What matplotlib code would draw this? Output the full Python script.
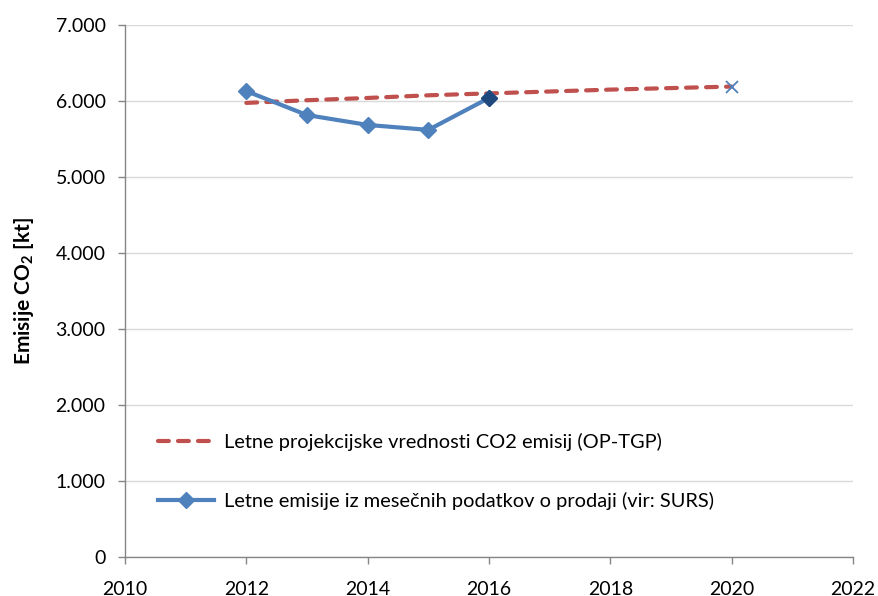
import matplotlib
matplotlib.use("Agg")
import matplotlib.pyplot as plt
from matplotlib.ticker import FuncFormatter, MultipleLocator

plt.rcParams['font.family'] = ['Lato', 'DejaVu Sans']
plt.rcParams['mathtext.fontset'] = 'custom'
plt.rcParams['mathtext.bf'] = 'Lato:bold'
plt.rcParams['mathtext.rm'] = 'Lato'

proj_years = [2012, 2013, 2014, 2015, 2016, 2017, 2018, 2019, 2020]
proj_values = [5975, 6010, 6040, 6075, 6100, 6125, 6150, 6170, 6190]
target_year = [2020]
target_value = [6185]

emis_years = [2012, 2013, 2014, 2015, 2016]
emis_values = [6130, 5815, 5685, 5620, 6040]

label_proj = "Letne projekcijske vrednosti CO2 emisij (OP-TGP)"
label_emis = "Letne emisije iz mesečnih podatkov o prodaji (vir: SURS)"

blue = "#4F81BD"
red = "#C0504D"
dark = "#1F497D"
grid = "#D9D9D9"
axis_col = "#868686"

fig = plt.figure(figsize=(8.79, 5.96), dpi=100)
ax = fig.add_axes([125/879, 1-557/596, 728/879, 532/596])

ax.plot(proj_years, proj_values, color=red, lw=3.0, ls=(0, (2.6, 2.2)),
        dash_capstyle='round', label=label_proj, zorder=3)
ax.plot(target_year, target_value, ls='none', marker='x', color=blue,
        ms=8, mew=1.3, zorder=4)
ax.plot(emis_years, emis_values, color=blue, lw=3.0, marker='D', ms=8,
        mec=blue, mfc=blue, label=label_emis, zorder=5)
ax.plot(emis_years[-1:], emis_values[-1:], ls='none', marker='D', ms=8,
        color=dark, zorder=6)

ax.set_xlim(2010, 2022)
ax.set_ylim(0, 7000)
ax.xaxis.set_major_locator(MultipleLocator(2))
ax.yaxis.set_major_locator(MultipleLocator(1000))
ax.yaxis.set_major_formatter(FuncFormatter(lambda v, p: f"{int(v):,}".replace(",", ".")))

ax.grid(axis='y', color=grid, lw=1.0, zorder=0)
ax.set_axisbelow(True)
for s in ['top', 'right']:
    ax.spines[s].set_visible(False)
for s in ['left', 'bottom']:
    ax.spines[s].set_color(axis_col)
    ax.spines[s].set_linewidth(1.0)
ax.tick_params(axis='both', colors=axis_col, labelcolor='black', labelsize=14,
               length=5, width=1.0, direction='out')
ax.tick_params(axis='y', pad=9)
ax.tick_params(axis='x', pad=12)

ax.set_ylabel(r"Emisije CO$_{\mathbf{2}}$ [kt]", fontsize=15, fontweight='bold', labelpad=14)

leg = ax.legend(loc='lower left', bbox_to_anchor=(0.02, 0.055), frameon=False,
                fontsize=14.4, handlelength=2.8, handletextpad=0.5, labelspacing=2.05,
                numpoints=1)

fig.savefig("out.png", dpi=100)
